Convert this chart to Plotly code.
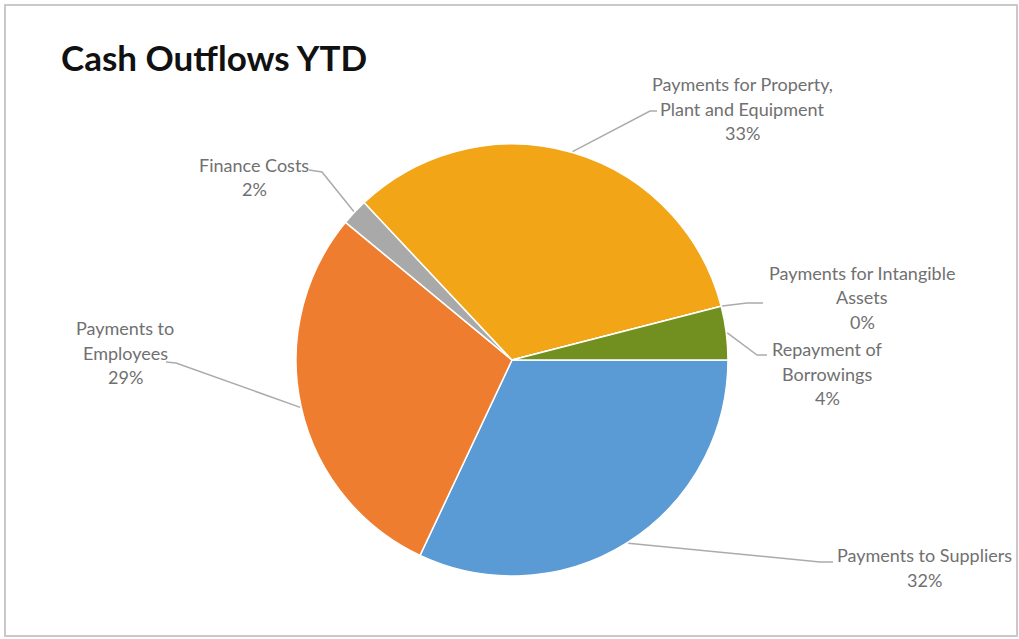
import math
import plotly.graph_objects as go

# Cash outflow categories and their share of the year-to-date total (%)
categories = [
    "Payments to Suppliers",
    "Payments to Employees",
    "Finance Costs",
    "Payments for Property, Plant and Equipment",
    "Payments for Intangible Assets",
    "Repayment of Borrowings",
]
shares = [32, 29, 2, 33, 0, 4]

# Label text as wrapped on the chart
label_lines = [
    ["Payments to Suppliers"],
    ["Payments to", "Employees"],
    ["Finance Costs"],
    ["Payments for Property,", "Plant and Equipment"],
    ["Payments for Intangible", "Assets"],
    ["Repayment of", "Borrowings"],
]

colors = ["#5B9BD5", "#EE7D30", "#A9A9A9", "#F2A516", "#4472C4", "#72901F"]

W, H = 1019, 639
CX, CY, R = 512, 360, 216

# Label placement (pixels): text centre x, first line y, leader elbow, leader end
label_layout = [
    dict(tx=924, ty=555, elbow=(820, 562), end=(833, 562)),
    dict(tx=125, ty=328, elbow=(176, 363), end=(166, 362)),
    dict(tx=254, ty=165, elbow=(322, 172), end=(309, 170)),
    dict(tx=742, ty=84, elbow=(650, 111), end=(657, 111)),
    dict(tx=862, ty=273, elbow=(747, 303), end=(763, 303)),
    dict(tx=827, ty=349, elbow=(757, 355), end=(767, 355)),
]
LINE_H = 24.5
FONT = "Lato"
TEXT_COLOR = "#707070"
LEADER_COLOR = "#ABABAB"


def px(x, y):
    return x / W, 1 - y / H


fig = go.Figure(
    go.Pie(
        labels=categories,
        values=shares,
        sort=False,
        direction="clockwise",
        rotation=90,
        marker=dict(colors=colors, line=dict(color="white", width=1.5)),
        textinfo="none",
        hoverinfo="label+percent",
        domain=dict(
            x=[(CX - R) / W, (CX + R) / W],
            y=[(H - CY - R) / H, (H - CY + R) / H],
        ),
        showlegend=False,
    )
)

shapes = []
annotations = []
total = sum(shares)
start = 0.0
for name_lines, val, lay in zip(label_lines, shares, label_layout):
    frac = val / total
    mid = (start + frac / 2) * 2 * math.pi  # clockwise from 3 o'clock
    start += frac
    sx = CX + (R + 1) * math.cos(mid)
    sy = CY + (R + 1) * math.sin(mid)
    pts = [(sx, sy), lay["elbow"], lay["end"]]
    path = "M " + " L ".join(
        f"{px(x, y)[0]:.5f},{px(x, y)[1]:.5f}" for x, y in pts
    )
    shapes.append(
        dict(type="path", xref="paper", yref="paper", path=path,
             line=dict(color=LEADER_COLOR, width=1.5))
    )
    lines = name_lines + [f"{round(100 * frac)}%"]
    for i, txt in enumerate(lines):
        ax, ay = px(lay["tx"], lay["ty"] + i * LINE_H)
        annotations.append(
            dict(x=ax, y=ay, xref="paper", yref="paper", text=txt,
                 showarrow=False, xanchor="center", yanchor="middle",
                 font=dict(family=FONT, size=18, color=TEXT_COLOR))
        )

# Chart title
tx, ty = px(59, 57)
annotations.append(
    dict(x=tx, y=ty, xref="paper", yref="paper", text="<b>Cash Outflows YTD</b>",
         showarrow=False, xanchor="left", yanchor="middle",
         font=dict(family=FONT, size=35, color="#111111"))
)

# Chart frame
x0, y0 = px(5, 5)
x1, y1 = px(1017, 636)
shapes.append(
    dict(type="rect", xref="paper", yref="paper", x0=x0, y0=y1, x1=x1, y1=y0,
         line=dict(color="#C9C9C9", width=2), fillcolor="rgba(0,0,0,0)", layer="below")
)

fig.update_layout(
    width=W,
    height=H,
    margin=dict(l=0, r=0, t=0, b=0),
    paper_bgcolor="white",
    plot_bgcolor="white",
    shapes=shapes,
    annotations=annotations,
)

fig.write_html("out.html")
